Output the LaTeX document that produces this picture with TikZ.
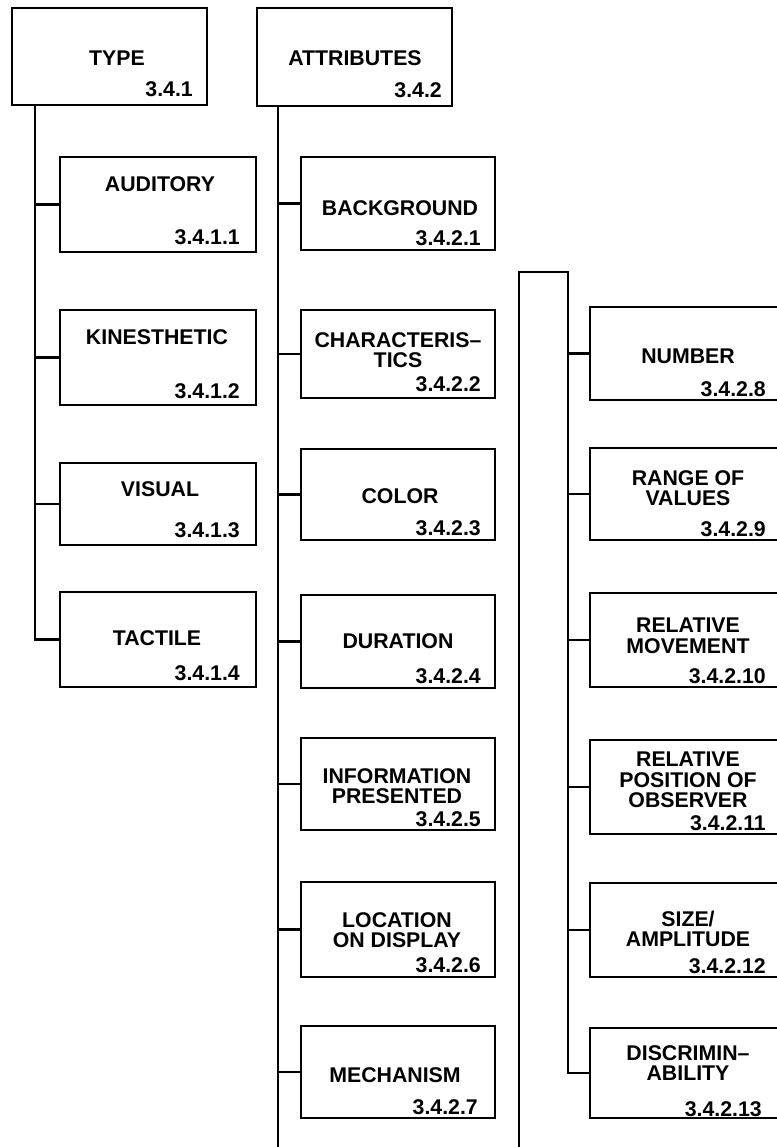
\documentclass[tikz,border=0pt]{standalone}
\usepackage{fontspec}
\setmainfont{Liberation Sans}
\begin{document}
\begin{tikzpicture}[x=1pt,y=-1pt,
  box/.style={draw, line width=2.9pt, rectangle, inner sep=0pt},
  lbl/.style={font=\fontsize{21.3}{20.5}\selectfont\bfseries, align=center, inner sep=0pt},
  num/.style={font=\fontsize{21.3}{21}\selectfont\bfseries, anchor=base east, inner sep=0pt},
  conn/.style={line width=2.7pt}]
\useasboundingbox (0,0) rectangle (776,1147);
% top boxes
\node[box,minimum width=195pt,minimum height=97pt] (type) at (109.5,56.5) {};
\node[lbl] (typeL) at (117,58) {TYPE};
\node[num] (typeN) at (193,97) {3.4.1};
\node[box,minimum width=195pt,minimum height=98pt] (attr) at (354.5,57) {};
\node[lbl] (attrL) at (355,58) {ATTRIBUTES};
\node[num] (attrN) at (442,98) {3.4.2};
% left column
\node[box,minimum width=196pt,minimum height=95pt] (aud) at (158,204.5) {};
\node[lbl] (audL) at (160,184) {AUDITORY};
\node[num] (audN) at (240,245) {3.4.1.1};
\node[box,minimum width=196pt,minimum height=95pt] (kin) at (158,357.5) {};
\node[lbl] (kinL) at (157,337) {KINESTHETIC};
\node[num] (kinN) at (240,398) {3.4.1.2};
\node[box,minimum width=196pt,minimum height=82pt] (vis) at (158,504) {};
\node[lbl] (visL) at (160,489) {VISUAL};
\node[num] (visN) at (240,537) {3.4.1.3};
\node[box,minimum width=196pt,minimum height=95pt] (tac) at (158,639.5) {};
\node[lbl] (tacL) at (157,638) {TACTILE};
\node[num] (tacN) at (240,680) {3.4.1.4};
% middle column
\node[box,minimum width=194pt,minimum height=93pt] (bg) at (398,203.5) {};
\node[lbl] (bgL) at (400,208) {BACKGROUND};
\node[num] (bgN) at (481,246) {3.4.2.1};
\node[box,minimum width=194pt,minimum height=88pt] (char) at (398,354) {};
\node[lbl] (charL) at (398,350) {CHARACTERIS–\\TICS};
\node[num] (charN) at (481,391) {3.4.2.2};
\node[box,minimum width=194pt,minimum height=91pt] (col) at (398,494.5) {};
\node[lbl] (colL) at (400,496) {COLOR};
\node[num] (colN) at (481,535) {3.4.2.3};
\node[box,minimum width=194pt,minimum height=93pt] (dur) at (398,641.5) {};
\node[lbl] (durL) at (398,641) {DURATION};
\node[num] (durN) at (481,683) {3.4.2.4};
\node[box,minimum width=194pt,minimum height=92pt] (info) at (398,784) {};
\node[lbl] (infoL) at (397,786) {INFORMATION\\PRESENTED};
\node[num] (infoN) at (481,826) {3.4.2.5};
\node[box,minimum width=194pt,minimum height=95pt] (loc) at (398,929.5) {};
\node[lbl] (locL) at (397,930) {LOCATION\\ON DISPLAY};
\node[num] (locN) at (481,972) {3.4.2.6};
\node[box,minimum width=194pt,minimum height=92pt] (mech) at (398,1072) {};
\node[lbl] (mechL) at (395,1075) {MECHANISM};
\node[num] (mechN) at (478,1114) {3.4.2.7};
% right column
\node[box,minimum width=189pt,minimum height=93pt] (numb) at (684.5,353.5) {};
\node[lbl] (numbL) at (688,356) {NUMBER};
\node[num] (numbN) at (766,396) {3.4.2.8};
\node[box,minimum width=189pt,minimum height=92pt] (rng) at (684.5,494) {};
\node[lbl] (rngL) at (688,488) {RANGE OF\\VALUES};
\node[num] (rngN) at (766,536) {3.4.2.9};
\node[box,minimum width=189pt,minimum height=94pt] (rmov) at (684.5,640) {};
\node[lbl] (rmovL) at (688,636) {RELATIVE\\MOVEMENT};
\node[num] (rmovN) at (766,683) {3.4.2.10};
\node[box,minimum width=189pt,minimum height=94pt] (rpos) at (684.5,787) {};
\node[lbl] (rposL) at (688,780) {RELATIVE\\POSITION OF\\OBSERVER};
\node[num] (rposN) at (766,830) {3.4.2.11};
\node[box,minimum width=189pt,minimum height=94pt] (size) at (684.5,930) {};
\node[lbl] (sizeL) at (688,929) {SIZE/\\AMPLITUDE};
\node[num] (sizeN) at (766,973) {3.4.2.12};
\node[box,minimum width=189pt,minimum height=90pt] (disc) at (684.5,1073) {};
\node[lbl] (discL) at (688,1063) {DISCRIMIN–\\ABILITY};
\node[num] (discN) at (762,1116) {3.4.2.13};
% connectors
\coordinate (tL) at (35,105);
\draw[conn] (tL) |- (tac.west);
\foreach \n in {aud,kin,vis} {\draw[conn] (tL |- \n.west) -- (\n.west);}
\coordinate (mT) at (278,106);
\coordinate (mB) at (278,1152);
\draw[conn] (mT) -- (mB);
\foreach \n in {bg,char,col,dur,info,loc,mech} {\draw[conn] (mT |- \n.west) -- (\n.west);}
\coordinate (rB) at (519,1152);
\coordinate (rT) at (519,272);
\coordinate (rT2) at (568,272);
\draw[conn] (rB) -- (rT) -- (rT2) |- (disc.west);
\foreach \n in {numb,rng,rmov,rpos,size} {\draw[conn] (rT2 |- \n.west) -- (\n.west);}
\end{tikzpicture}
\end{document}
